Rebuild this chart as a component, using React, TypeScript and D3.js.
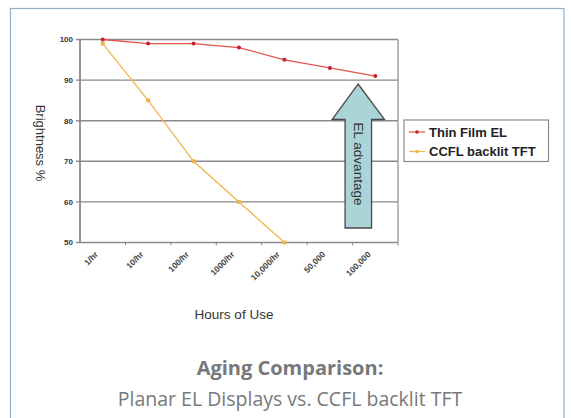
import React from 'react';
import * as d3 from 'd3';

const categories = ['1/hr', '10/hr', '100/hr', '1000/hr', '10,000/hr', '50,000', '100,000'];
const thinFilmEL = [100, 99, 99, 98, 95, 93, 91];
const ccflTFT = [99, 85, 70, 60, 50];
const yTicks = [50, 60, 70, 80, 90, 100];
const seriesNames = ['Thin Film EL', 'CCFL backlit TFT'];

const W = 571;
const H = 418;
const margin = { top: 39.5, right: 173, bottom: 175.5, left: 80 };
const RED = '#e5524d';
const ORANGE = '#f3b54a';

export default function App() {
  const x = d3.scaleBand().domain(categories).range([margin.left, W - margin.right]);
  const y = d3.scaleLinear().domain([50, 100]).range([H - margin.bottom, margin.top]);
  const cx = (i: number) => (x(categories[i]) as number) + x.bandwidth() / 2;
  const line = d3.line<number>().x((_, i) => cx(i)).y(d => y(d));

  const x0 = margin.left, x1 = W - margin.right, yb = y(50);

  // arrow sits between the 50,000 and 100,000 points
  const ax = cx(5) + x.bandwidth() / 2 + 5.5;
  const arrow = [
    [ax, 84], [ax + 26.5, 119.5], [ax + 13.5, 119.5], [ax + 13.5, 228],
    [ax - 13, 228], [ax - 13, 119.5], [ax - 26, 119.5]
  ];

  return (
    <svg width={W} height={H} style={{ position: 'absolute', left: 0, top: 0, background: '#fff' }}
      fontFamily="'Liberation Sans', Arial, sans-serif">
      <rect x={10.5} y={8.5} width={553.5} height={420} fill="#fff" stroke="#8fb1cb" strokeWidth={1.2} />

      {/* grid */}
      {yTicks.map(t => (
        <g key={t}>
          <line x1={x0 - 4} x2={x1} y1={y(t)} y2={y(t)} stroke="#8a8a8a" strokeWidth={1.4} />
          <text x={x0 - 7} y={y(t)} dy="0.35em" textAnchor="end" fontSize={8} fontWeight="bold" fill="#333">{t}</text>
        </g>
      ))}
      <line x1={x0} x2={x0} y1={margin.top} y2={yb} stroke="#8a8a8a" strokeWidth={1.8} />
      <line x1={x1} x2={x1} y1={margin.top} y2={yb} stroke="#8a8a8a" strokeWidth={1.2} />

      {/* x ticks */}
      {categories.map(c => (
        <line key={'t' + c} x1={(x(c) as number) + x.bandwidth()} x2={(x(c) as number) + x.bandwidth()}
          y1={yb} y2={yb + 3} stroke="#8a8a8a" />
      ))}
      {categories.map((c, i) => (
        <text key={c} transform={`translate(${cx(i) - 4},${yb + 12.5}) rotate(-45)`} textAnchor="end"
          fontSize={8.5} fontWeight="bold" fill="#444">{c}</text>
      ))}

      {/* arrow */}
      <polygon points={arrow.map(p => p.join(',')).join(' ')} fill="#a9d5d8" stroke="#4a4a4a" strokeWidth={1.3} />
      <text transform={`translate(${ax + 1},${164}) rotate(90)`} textAnchor="middle" dy="0.35em"
        fontSize={13.5} fill="#333">EL advantage</text>

      {/* series */}
      <path d={line(ccflTFT) as string} fill="none" stroke={ORANGE} strokeWidth={1.3} />
      {ccflTFT.map((v, i) => (
        <rect key={i} x={cx(i) - 2} y={y(v) - 2} width={4} height={4} fill={ORANGE} />
      ))}
      <path d={line(thinFilmEL) as string} fill="none" stroke={RED} strokeWidth={1.3} />
      {thinFilmEL.map((v, i) => (
        <circle key={i} cx={cx(i)} cy={y(v)} r={2} fill="#c8202a" />
      ))}

      {/* axis titles */}
      <text transform={`translate(41,${(margin.top + yb) / 2 + 2}) rotate(90)`} textAnchor="middle" dy="0.35em"
        fontSize={13} fill="#333">Brightness %</text>
      <text x={234} y={319} textAnchor="middle" fontSize={13.5} fill="#333">Hours of Use</text>

      {/* legend */}
      <rect x={404} y={120} width={144.5} height={41.5} fill="#fff" stroke="#8a8a8a" strokeWidth={1.2} />
      {seriesNames.map((n, i) => (
        <g key={n} transform={`translate(0,${132 + i * 19.5})`}>
          <line x1={409} x2={425} y1={0} y2={0} stroke={i === 0 ? RED : ORANGE} strokeWidth={1.2} />
          {i === 0
            ? <circle cx={417} cy={0} r={1.8} fill="#c8202a" />
            : <rect x={415.5} y={-1.5} width={3} height={3} fill={ORANGE} />}
          <text x={429} y={0} dy="0.35em" fontSize={13} fontWeight="bold" fill="#222">{n}</text>
        </g>
      ))}

      {/* caption */}
      <text x={290} y={375} textAnchor="middle" fontFamily="'Open Sans', sans-serif" fontWeight="bold"
        fontSize={20} fill="#77787b">Aging Comparison:</text>
      <text x={290} y={406} textAnchor="middle" fontFamily="'Open Sans', sans-serif"
        fontSize={19.5} fill="#77787b">Planar EL Displays vs. CCFL backlit TFT</text>
    </svg>
  );
}
